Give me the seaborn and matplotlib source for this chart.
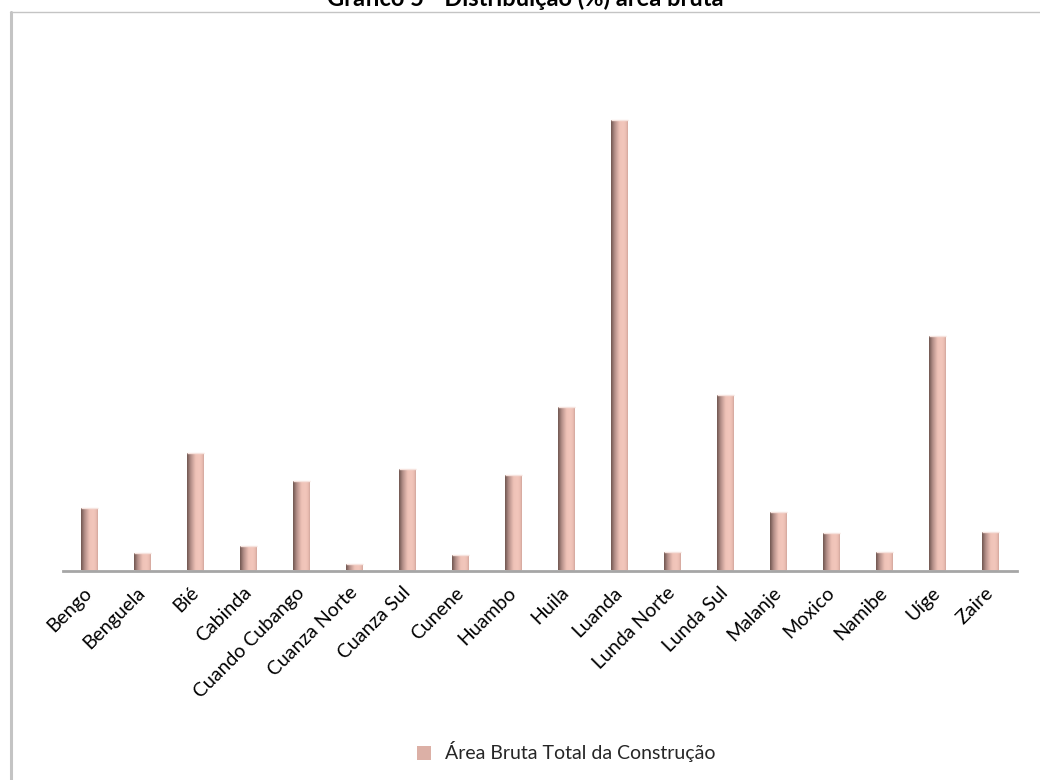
import matplotlib
matplotlib.use("Agg")
import matplotlib.pyplot as plt
import numpy as np
import pandas as pd
import seaborn as sns
from matplotlib.colors import LinearSegmentedColormap
from matplotlib.patches import Patch
from matplotlib.lines import Line2D

provinces = ["Bengo", "Benguela", "Bié", "Cabinda", "Cuando Cubango", "Cuanza Norte",
             "Cuanza Sul", "Cunene", "Huambo", "Huila", "Luanda", "Lunda Norte",
             "Lunda Sul", "Malanje", "Moxico", "Namibe", "Uíge", "Zaire"]
area_pct = [3.61, 1.03, 6.80, 1.42, 5.17, 0.39, 5.90, 0.90, 5.54, 9.46, 26.12, 1.06,
            10.19, 3.37, 2.17, 1.06, 13.58, 2.23]
series_name = "Área Bruta Total da Construção"
title = "Gráfico 5 - Distribuição (%) área bruta"

df = pd.DataFrame({"Província": provinces, "valor": area_pct})

sns.set_theme(style="white")
plt.rcParams["font.family"] = ["Lato", "DejaVu Sans"]

W, H = 1040, 780
fig = plt.figure(figsize=(W / 100, H / 100), dpi=100)
fig.patch.set_facecolor("white")

# axes placement in pixels
x0, x1 = 63, 1017
ybot, ytop = 570.5, 53.0
ax = fig.add_axes([x0 / W, 1 - ybot / H, (x1 - x0) / W, (ybot - ytop) / H])

sns.barplot(data=df, x="Província", y="valor", color="#e8b9ae", width=0.31,
            saturation=1, ax=ax, zorder=2)
ax.set_ylim(0, 30)
ax.set_xlim(-0.5, len(provinces) - 0.5)
ax.set_xlabel("")
ax.set_ylabel("")
ax.set_yticks([])
for s in ["left", "right", "top"]:
    ax.spines[s].set_visible(False)
ax.spines["bottom"].set_color("#a6a6a6")
ax.spines["bottom"].set_linewidth(2.0)
ax.spines["bottom"].set_zorder(5)
ax.tick_params(axis="x", length=0, pad=14)
for lab in ax.get_xticklabels():
    lab.set_rotation(45)
    lab.set_ha("right")
    lab.set_va("center")
    lab.set_rotation_mode("anchor")
    lab.set_fontsize(14)
    lab.set_color("black")

# cylinder-like gradient inside each bar
cmap = LinearSegmentedColormap.from_list(
    "cyl", [(0.0, "#6f5550"), (0.2, "#b08c85"), (0.5, "#eec2b7"),
            (0.75, "#f3c7bc"), (0.92, "#e9bbb0"), (1.0, "#cfa59b")])
grad = np.linspace(0, 1, 64).reshape(1, -1)
for p in ax.patches:
    bx, by = p.get_x(), p.get_y()
    bw, bh = p.get_width(), p.get_height()
    im = ax.imshow(grad, cmap=cmap, aspect="auto", extent=[bx, bx + bw, by, by + bh],
                   zorder=3, interpolation="bicubic")
    im.set_clip_path(p)
    ax.plot([bx, bx + bw], [by + bh, by + bh], color="#f6e3de", lw=1, zorder=4,
            solid_capstyle="butt")
ax.set_xlim(-0.5, len(provinces) - 0.5)
ax.set_ylim(0, 30)

# title (partially cut at top, as in the reference)
fig.text(525 / W, 1 - 5.5 / H, title, ha="center", va="baseline",
         fontsize=17, fontweight="bold", color="black")

# frame (left and top edges visible)
fig.add_artist(Line2D([11 / W, 11 / W], [0, 1 - 12 / H], color="#c4c4c4", lw=2.2,
                      transform=fig.transFigure))
fig.add_artist(Line2D([10 / W, 1], [1 - 12.3 / H, 1 - 12.3 / H], color="#c4c4c4", lw=1.0,
                      transform=fig.transFigure))

# legend
handle = Patch(facecolor="#dcb0a6", edgecolor="none")
fig.legend([handle], [series_name], loc="center",
           bbox_to_anchor=(566 / W, 1 - 752 / H), frameon=False, fontsize=14,
           handlelength=0.75, handleheight=0.75, handletextpad=0.7)

fig.savefig("out.png", dpi=100, facecolor="white")
